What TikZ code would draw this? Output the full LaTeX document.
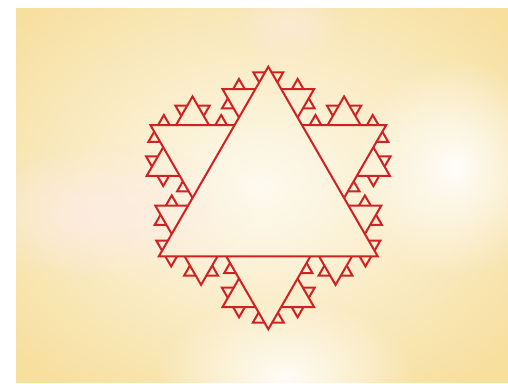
\documentclass[tikz,border=0pt]{standalone}
\usetikzlibrary{calc, fadings}

\definecolor{kochred}{RGB}{208,34,34}
\definecolor{sandbg}{RGB}{247,223,158}
\definecolor{cloudpink}{RGB}{253,236,228}

\tikzfading[name=softglow, inner color=transparent!0, outer color=transparent!100]

% places the smaller triangles along one edge of a level-#3 triangle
\newcommand\kochedge[3]{%
  \coordinate (A#3) at (#1);
  \coordinate (B#3) at (#2);
  \ifcase#3
    \kochbump{0}{0.030}{0.083}{3}%
    \kochbump{0}{0.118}{0.268}{2}%
    \kochbump{0}{0.308}{0.692}{1}%
    \kochbump{0}{0.732}{0.882}{2}%
    \kochbump{0}{0.917}{0.970}{3}%
  \or
    \kochbump{1}{0.090}{0.229}{3}%
    \kochbump{1}{0.3035}{0.6965}{2}%
    \kochbump{1}{0.771}{0.910}{3}%
  \or
    \kochbump{2}{0.3225}{0.6775}{3}%
  \fi}

% outward triangle on the part #2..#3 of the current edge
\newcommand\kochbump[4]{%
  \coordinate (P#1) at ($(A#1)!#2!(B#1)$);
  \coordinate (Q#1) at ($(A#1)!#3!(B#1)$);
  \coordinate (V#1) at ($(P#1)!1!60:(Q#1)$);
  \draw[kline] (P#1) -- (V#1) -- (Q#1);
  \kochedge{P#1}{V#1}{#4}%
  \kochedge{V#1}{Q#1}{#4}}

\begin{document}
\begin{tikzpicture}[x=0.02cm, y=0.02cm,
    kline/.style={draw=kochred, line width=1.15pt},
    glow/.style={path fading=softglow}
]
    \useasboundingbox (0,0) rectangle (508,383);

    % background
    \begin{scope}
        \clip (16,0) rectangle (508,375);
        \fill[sandbg] (16,0) rectangle (508,375);
        \fill[glow, white, opacity=0.85] (260,195) ellipse [x radius=330, y radius=250];
        \fill[glow, cloudpink, opacity=0.9] (100,170) ellipse [x radius=150, y radius=70];
        \fill[glow, white, opacity=0.9] (455,215) ellipse [x radius=100, y radius=110];
        \fill[glow, white, opacity=0.9] (285,5) ellipse [x radius=130, y radius=80];
        \fill[glow, cloudpink, opacity=0.6] (290,360) ellipse [x radius=60, y radius=40];
    \end{scope}

    % big triangle and its bumps
    \coordinate (top) at (268.3,316.3);
    \coordinate (right) at (377.8,126.6);
    \coordinate (left) at (158.8,126.6);
    \draw[kline] (top) -- (right) -- (left) -- cycle;
    \kochedge{top}{right}{0}
    \kochedge{right}{left}{0}
    \kochedge{left}{top}{0}
\end{tikzpicture}
\end{document}
